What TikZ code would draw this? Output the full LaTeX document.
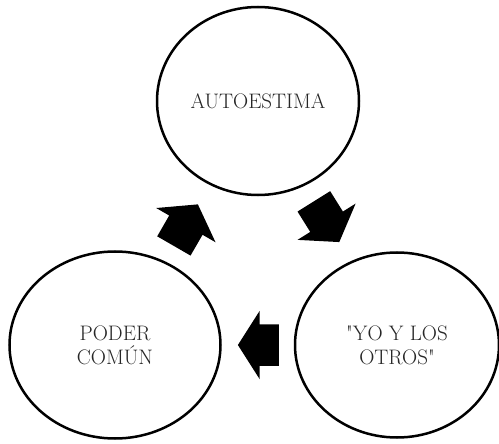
\documentclass[tikz,border=0pt]{standalone}
\usepackage{fontspec}
\usepackage{tikz}
\usetikzlibrary{shapes.geometric,shapes.arrows}

\newfontfamily\ideafont{Latin Modern Roman}

\begin{document}
\begin{tikzpicture}[x=1pt,y=-1pt,line width=2.5pt,
                    font=\ideafont\fontsize{21}{24}\selectfont]

  \tikzstyle{idea}=[ellipse,draw,align=center,inner sep=0pt,text=black!85]
  \tikzstyle{flecha}=[single arrow,fill=black,draw=none,inner xsep=0pt,
                      inner ysep=18pt,minimum height=48pt,
                      single arrow head extend=15pt,single arrow tip angle=110]

  \useasboundingbox (0,0) rectangle (499,444);

  \node[idea,minimum width=202pt,minimum height=188pt] (AUT) at (258,101) {AUTOESTIMA};
  \node[idea,minimum width=211pt,minimum height=187pt] (POD) at (115,345) {PODER\\COMÚN};
  \node[idea,minimum width=204pt,minimum height=185pt] (YLO) at (397,345) {"YO Y LOS\\OTROS"};

  \node[flecha,rotate=60]  (POD-AUT) at (182.5,231) {};
  \node[flecha,rotate=-58] (AUT-YLO) at (323,216) {};
  \node[flecha,rotate=180,minimum height=41pt,inner ysep=19.5pt,
        single arrow head extend=13.5pt,single arrow tip angle=115] (YLO-POD) at (265,345) {};
\end{tikzpicture}
\end{document}
